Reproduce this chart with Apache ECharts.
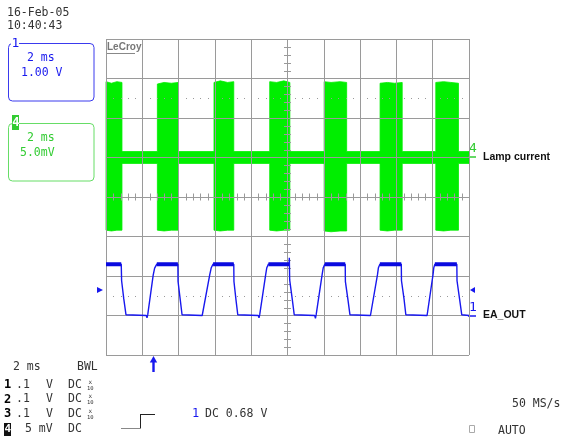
<!DOCTYPE html>
<html><head><meta charset="utf-8">
<script src="https://cdn.jsdelivr.net/npm/echarts@6/dist/echarts.min.js"></script>
<style>html,body{margin:0;padding:0;background:#fff}#c{width:566px;height:440px}</style>
</head><body><div id="c"></div>
<script>
// ---- axes (2 ms/div, ch1 1.00 V/div, ch4 5.0 mV/div) ----
const timeMin = 0, timeMax = 20, timeStep = 2;
const ch1Min = -1, ch1Max = 7, ch1Step = 1;
const ch4Min = -25, ch4Max = 15, ch4Step = 5;

// ---- EA_OUT (channel 1) trace vertices: time (ms), volts ----
const eaTime = [0, 0.84, 0.86, 0.98, 1.10, 1.14, 2.22, 2.26, 2.30, 2.60, 2.68, 2.80,
  3.96, 3.97, 4.09, 4.19, 4.23, 5.30, 5.34, 5.38, 5.72, 5.80, 5.90,
  7.04, 7.05, 7.16, 7.26, 7.30, 8.39, 8.43, 8.47, 8.80, 8.86, 8.95,
  10.09, 10.10, 10.12, 10.26, 10.37, 10.41, 11.50, 11.54, 11.58, 11.91, 11.97, 12.06,
  13.18, 13.19, 13.33, 13.44, 13.48, 14.57, 14.61, 14.65, 14.96, 15.01, 15.09,
  16.27, 16.28, 16.42, 16.52, 16.56, 17.69, 17.73, 17.77, 18.02, 18.06, 18.12,
  19.33, 19.34, 19.48, 19.60, 19.64, 20];
const eaVolt = [1.30, 1.30, 0.88, 0.42, 0.02, 0.0, 0.0, -0.06, 0.02, 1.02, 1.20, 1.30,
  1.30, 0.86, 0.40, 0.02, 0.0, 0.0, -0.05, 0.02, 1.04, 1.21, 1.30,
  1.30, 0.86, 0.40, 0.02, 0.0, 0.0, -0.06, 0.02, 1.04, 1.21, 1.30,
  1.30, 1.46, 0.90, 0.42, 0.02, 0.0, 0.0, -0.07, 0.02, 1.04, 1.21, 1.30,
  1.30, 0.86, 0.40, 0.02, 0.0, 0.0, -0.05, 0.02, 1.04, 1.21, 1.30,
  1.30, 0.88, 0.42, 0.02, 0.0, 0.0, -0.05, 0.02, 1.04, 1.21, 1.30,
  1.30, 0.88, 0.42, 0.02, 0.0, 0.0];
// noisy high plateaus of EA_OUT (ms)
const eaHighStart = [0, 2.80, 5.90, 8.95, 12.06, 15.09, 18.12];
const eaHighEnd   = [0.84, 3.96, 7.04, 10.09, 13.18, 16.27, 19.33];
const eaHighLevel = 1.30;

// ---- Lamp current (channel 4) envelope: time (ms), upper / lower (mV) ----
const lampTime  = [0, 0.30, 0.60, 0.88, 0.88, 2.83, 2.83, 3.20, 3.60, 3.98, 3.98,
  5.95, 5.95, 6.30, 6.70, 7.04, 7.04, 9.02, 9.02, 9.40, 9.80, 10.13, 10.13,
  12.02, 12.02, 12.40, 12.90, 13.26, 13.26, 15.10, 15.10, 15.50, 15.90, 16.32, 16.32,
  18.17, 18.17, 18.60, 19.00, 19.42, 19.42, 20];
const lampUpper = [9.6, 9.4, 9.6, 9.5, 0.75, 0.75, 9.3, 9.5, 9.4, 9.5, 0.75,
  0.75, 9.5, 9.7, 9.5, 9.6, 0.75, 0.75, 9.6, 9.5, 9.7, 9.5, 0.75,
  0.75, 9.6, 9.5, 9.6, 9.5, 0.75, 0.75, 9.4, 9.5, 9.4, 9.5, 0.75,
  0.75, 9.5, 9.6, 9.5, 9.4, 0.75, 0.75];
const lampLower = [-9.2, -9.3, -9.2, -9.2, -0.75, -0.75, -9.2, -9.3, -9.2, -9.2, -0.75,
  -0.75, -9.2, -9.3, -9.2, -9.2, -0.75, -0.75, -9.2, -9.3, -9.2, -9.2, -0.75,
  -0.75, -9.3, -9.4, -9.3, -9.3, -0.75, -0.75, -9.2, -9.3, -9.2, -9.2, -0.75,
  -0.75, -9.2, -9.3, -9.2, -9.2, -0.75, -0.75];

// dotted reference levels (channel-1 volts) and trigger
const dottedLevels = [0.5, 5.5];
const triggerLevel = 0.68;

const BLUE = '#1818ee', GREEN = '#00ee00', GTXT = '#33cc33', GRID = '#9a9a9a', TXT = '#333';
const MONO = '"DejaVu Sans Mono", monospace';

const eaData = eaTime.map((t, i) => [t, eaVolt[i]]);
const eaHighData = [];
eaHighStart.forEach((s, i) => { eaHighData.push([s, eaHighLevel], [eaHighEnd[i], eaHighLevel], null); });

const chart = echarts.init(document.getElementById('c'), null, {renderer: 'canvas'});

function txt(x, y, text, font, fill, extra) {
  return Object.assign({type: 'text', x, y, silent: true,
    style: {text, font: font || ('11.5px ' + MONO), fill: fill || TXT, textVerticalAlign: 'middle'}}, extra || {});
}
function line(x1, y1, x2, y2, stroke, w) {
  return {type: 'line', silent: true, shape: {x1, y1, x2, y2}, style: {stroke, lineWidth: w || 1}};
}

const graphics = [
  txt(7, 13, '16-Feb-05'), txt(7, 26, '10:40:43'),
  // channel 1 box
  {type: 'rect', shape: {x: 8.5, y: 43.5, width: 85.5, height: 57.5, r: 4}, style: {fill: 'none', stroke: '#3a3aee', lineWidth: 1}},
  {type: 'rect', shape: {x: 11, y: 37, width: 8, height: 14}, style: {fill: '#fff'}},
  txt(11.5, 44, '1', '13px ' + MONO, BLUE),
  txt(27, 58, '2 ms', '11.5px ' + MONO, BLUE), txt(21, 73, '1.00 V', '11.5px ' + MONO, BLUE),
  // channel 4 box
  {type: 'rect', shape: {x: 8.5, y: 123.5, width: 85.5, height: 57.5, r: 4}, style: {fill: 'none', stroke: '#66dd66', lineWidth: 1}},
  {type: 'rect', shape: {x: 12, y: 115, width: 7, height: 15}, style: {fill: GTXT}},
  txt(12.3, 123, '4', 'bold 12px ' + MONO, '#fff'),
  txt(27, 138, '2 ms', '11.5px ' + MONO, GTXT), txt(20, 153, '5.0mV', '11.5px ' + MONO, GTXT),
  // LeCroy logo
  txt(107, 47, 'LeCroy', 'bold 10px "Liberation Sans"', '#777'),
  line(107, 53.5, 135, 53.5, '#888', 1),
  // right labels
  txt(469, 149, '4', '13px ' + MONO, GTXT), line(468, 157, 476, 157, GTXT, 1.5),
  txt(483, 157, 'Lamp current', 'bold 10.5px "Liberation Sans"', '#111'),
  {type: 'polygon', shape: {points: [[475, 287], [475, 293], [470, 290]]}, style: {fill: BLUE}},
  txt(469, 308, '1', '13px ' + MONO, BLUE), line(468, 316, 476, 316, BLUE, 1.5),
  txt(483, 315.5, 'EA_OUT', 'bold 10.5px "Liberation Sans"', '#111'),
  {type: 'polygon', shape: {points: [[97, 287], [97, 293], [103, 290]]}, style: {fill: BLUE}},
  // trigger position arrow
  {type: 'polygon', shape: {points: [[153.5, 356], [149.8, 362.5], [157.2, 362.5]]}, style: {fill: BLUE}},
  {type: 'rect', shape: {x: 152.3, y: 362, width: 2.4, height: 10}, style: {fill: BLUE}},
  // bottom-left settings
  txt(13, 367, '2 ms'), txt(77, 367, 'BWL'),
];
const rows = [385, 399.5, 414, 429];
['1', '2', '3'].forEach((d, i) => {
  const y = rows[i];
  graphics.push(txt(4, y, d, 'bold 12px ' + MONO, '#000'), txt(16, y, '.1'), txt(46, y, 'V'), txt(68, y, 'DC'),
    txt(88.5, y - 3, 'x', '6px ' + MONO, TXT), txt(87, y + 3.5, '10', '5.5px ' + MONO, TXT));
});
graphics.push(
  {type: 'rect', shape: {x: 4, y: 423, width: 7, height: 13}, style: {fill: '#111'}},
  txt(4.5, 429.5, '4', 'bold 11px ' + MONO, '#fff'),
  txt(25, 429, '5 mV'), txt(68, 429, 'DC'),
  line(121, 428.5, 140, 428.5, '#888', 1), line(140.5, 428.5, 140.5, 414, '#222', 1), line(140, 414.5, 155, 414.5, '#222', 1),
  txt(192, 414, '1', '12px ' + MONO, BLUE), txt(205, 414, 'DC 0.68 V'),
  txt(512, 404, '50 MS/s'),
  {type: 'rect', shape: {x: 469.5, y: 425.5, width: 5, height: 7}, style: {fill: 'none', stroke: '#aaa', lineWidth: 1}},
  txt(498, 431, 'AUTO')
);

const option = {
  animation: false,
  backgroundColor: '#fff',
  grid: {left: 106, top: 39, width: 363, height: 316, show: false},
  xAxis: {type: 'value', min: timeMin, max: timeMax, interval: timeStep,
    axisLine: {show: false}, axisTick: {show: false}, axisLabel: {show: false},
    splitLine: {show: true, lineStyle: {color: GRID, width: 1}}},
  yAxis: [
    {type: 'value', min: ch1Min, max: ch1Max, interval: ch1Step,
      axisLine: {show: false}, axisTick: {show: false}, axisLabel: {show: false},
      splitLine: {show: true, lineStyle: {color: GRID, width: 1}}},
    {type: 'value', min: ch4Min, max: ch4Max, interval: ch4Step, position: 'right',
      axisLine: {show: false}, axisTick: {show: false}, axisLabel: {show: false}, splitLine: {show: false}}
  ],
  series: [
    { // lamp current envelope
      type: 'custom', yAxisIndex: 1, z: -1, silent: true, data: [[0]],
      renderItem(params, api) {
        const pts = [];
        for (let i = 0; i < lampTime.length; i++) pts.push(api.coord([lampTime[i], lampUpper[i]]));
        for (let i = lampTime.length - 1; i >= 0; i--) pts.push(api.coord([lampTime[i], lampLower[i]]));
        return {type: 'polygon', shape: {points: pts}, style: {fill: GREEN, stroke: GREEN, lineWidth: 0.8}};
      }
    },
    { // center-line minor ticks and dotted reference lines
      type: 'custom', yAxisIndex: 0, z: 1, silent: true, data: [[0]],
      renderItem(params, api) {
        const ch = [];
        const cx = (timeMin + timeMax) / 2, cy = (ch1Min + ch1Max) / 2;
        const divT = timeStep / 5, divV = ch1Step / 5;
        for (let k = 1; k < (timeMax - timeMin) / divT; k++) {
          if (k % 5 === 0) continue;
          const p = api.coord([timeMin + k * divT, cy]);
          ch.push({type: 'line', shape: {x1: Math.round(p[0]) + 0.5, y1: p[1] - 3.5, x2: Math.round(p[0]) + 0.5, y2: p[1] + 3.5}, style: {stroke: GRID, lineWidth: 1}});
          dottedLevels.forEach(lv => {
            const q = api.coord([timeMin + k * divT, lv]);
            ch.push({type: 'rect', shape: {x: Math.round(q[0]), y: Math.round(q[1]), width: 1, height: 1}, style: {fill: '#999'}});
          });
        }
        for (let k = 1; k < (ch1Max - ch1Min) / divV; k++) {
          if (k % 5 === 0) continue;
          const p = api.coord([cx, ch1Min + k * divV]);
          ch.push({type: 'line', shape: {x1: p[0] - 3.5, y1: Math.round(p[1]) + 0.5, x2: p[0] + 3.5, y2: Math.round(p[1]) + 0.5}, style: {stroke: GRID, lineWidth: 1}});
        }
        return {type: 'group', children: ch};
      }
    },
    { type: 'line', yAxisIndex: 0, z: 3, data: eaData, showSymbol: false, symbol: 'none', silent: true,
      lineStyle: {color: BLUE, width: 1.4} },
    { type: 'line', yAxisIndex: 0, z: 3, data: eaHighData, showSymbol: false, symbol: 'none', silent: true,
      connectNulls: false, lineStyle: {color: '#0a0ae0', width: 4} }
  ],
  graphic: {elements: graphics}
};
chart.setOption(option);
</script></body></html>
